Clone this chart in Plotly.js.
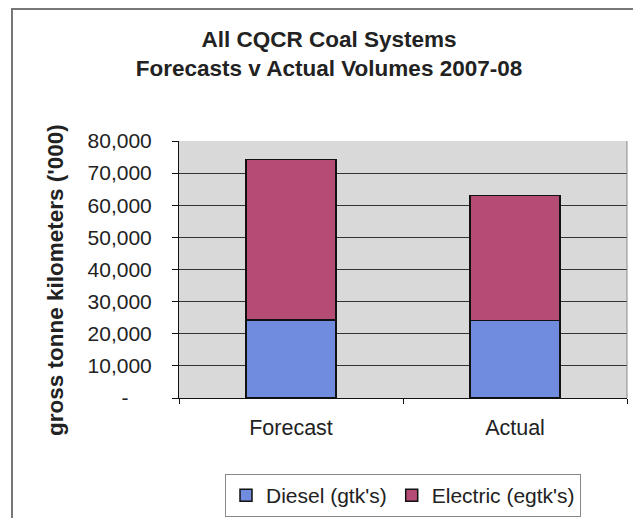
<!DOCTYPE html>
<html>
<head>
<meta charset="utf-8">
<script src="https://cdn.plot.ly/plotly-3.0.1.min.js"></script>
<style>
html,body{margin:0;padding:0;background:#fff;}
#chart{width:633px;height:518px;}
</style>
</head>
<body>
<div id="chart"></div>
<script>
const categories = ["Forecast", "Actual"];
const dieselValues = [24300, 24200];
const electricValues = [49900, 38900];
const seriesNames = ["Diesel (gtk's)", "Electric (egtk's)"];
const yTickVals = [0, 10000, 20000, 30000, 40000, 50000, 60000, 70000, 80000];
const yTickText = ["-\u00a0\u00a0\u00a0\u00a0", "10,000", "20,000", "30,000", "40,000", "50,000", "60,000", "70,000", "80,000"];

const W = 633, H = 518;
const M = {l: 179, r: 6, t: 141, b: 120, autoexpand: false};
const pw = W - M.l - M.r, ph = H - M.t - M.b;
const px = x => (x - M.l) / pw;
const py = y => (H - M.b - y) / ph;

const FONT = "Liberation Sans, Arial, sans-serif";
const TXT = "#222";

const traces = [
  {type: "bar", name: seriesNames[0], x: categories, y: dieselValues,
   marker: {color: "rgb(112,140,222)", line: {color: "#111", width: 1.5}}},
  {type: "bar", name: seriesNames[1], x: categories, y: electricValues,
   marker: {color: "rgb(180,76,118)", line: {color: "#111", width: 1.5}}}
];

const layout = {
  width: W, height: H,
  margin: M,
  paper_bgcolor: "#fff",
  plot_bgcolor: "#d9d9d9",
  barmode: "stack",
  bargap: 0.6,
  font: {family: FONT, color: TXT, size: 21},
  title: {
    text: "All CQCR Coal Systems<br>Forecasts v Actual Volumes 2007-08",
    font: {family: FONT, size: 22.5, weight: "bold", color: TXT},
    x: 329 / W, xref: "container", xanchor: "center",
    y: 1 - 47 / H, yref: "container", yanchor: "middle"
  },
  xaxis: {
    type: "category",
    showline: true, linecolor: "#111", linewidth: 1,
    ticks: "outside", tickson: "boundaries", ticklen: 5, tickcolor: "#111",
    showgrid: false,
    tickfont: {size: 21.5, color: TXT},
    ticklabelstandoff: 10
  },
  yaxis: {
    range: [0, 80000],
    tickvals: yTickVals, ticktext: yTickText,
    showline: true, linecolor: "#111", linewidth: 1,
    ticks: "outside", ticklen: 6, tickcolor: "#111",
    showgrid: true, gridcolor: "#333", gridwidth: 1,
    zeroline: false,
    tickfont: {size: 21, color: TXT},
    ticklabelstandoff: 16
  },
  showlegend: true,
  legend: {
    orientation: "h", traceorder: "normal",
    x: px(225), xanchor: "left",
    y: py(474), yanchor: "top",
    bordercolor: "#888", borderwidth: 1,
    bgcolor: "#fff",
    font: {size: 21, color: TXT}
  },
  annotations: [{
    text: "<b>gross tonne kilometers ('000)</b>",
    textangle: -90,
    xref: "paper", yref: "paper",
    x: px(55), y: py(280),
    xanchor: "center", yanchor: "middle",
    showarrow: false,
    font: {size: 22.5, color: TXT}
  }],
  shapes: [
    {type: "path", xref: "paper", yref: "paper",
     path: `M ${px(12)} ${py(H + 10)} L ${px(12)} ${py(9)} L ${px(W + 10)} ${py(9)}`,
     line: {color: "#777", width: 2}},
    {type: "line", xref: "paper", yref: "paper", x0: 1, x1: 1, y0: 0, y1: 1,
     line: {color: "#888", width: 1}}
  ]
};

Plotly.newPlot("chart", traces, layout, {displayModeBar: false, staticPlot: true});
</script>
</body>
</html>
